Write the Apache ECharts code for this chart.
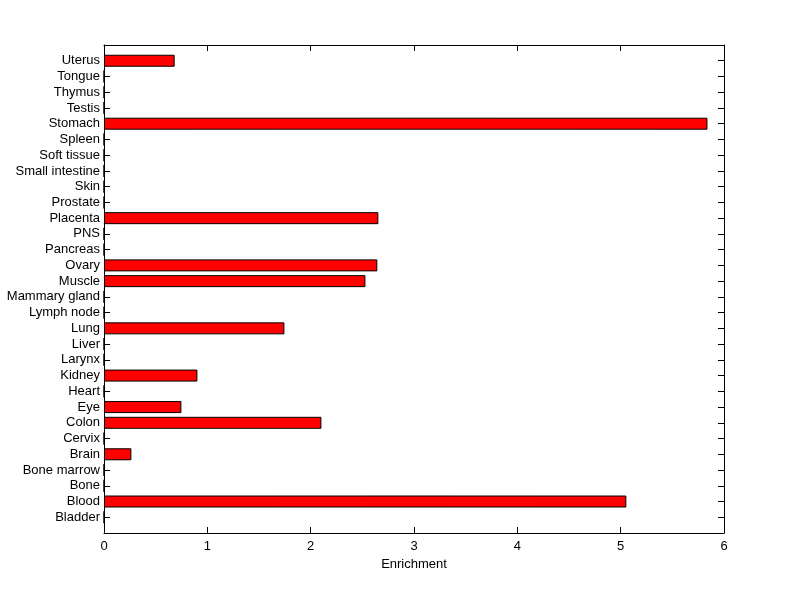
<!DOCTYPE html>
<html>
<head>
<meta charset="utf-8">
<script src="https://cdn.jsdelivr.net/npm/echarts@6/dist/echarts.min.js"></script>
<style>html,body{margin:0;padding:0;background:#fff;}#c{width:800px;height:599px;}</style>
</head>
<body>
<div id="c"></div>
<script>
var categories = ['Bladder','Blood','Bone','Bone marrow','Brain','Cervix','Colon','Eye','Heart','Kidney','Larynx','Liver','Lung','Lymph node','Mammary gland','Muscle','Ovary','Pancreas','PNS','Placenta','Prostate','Skin','Small intestine','Soft tissue','Spleen','Stomach','Testis','Thymus','Tongue','Uterus'];
var enrichment = [0,5.055,0,0,0.265,0,2.104,0.749,0,0.904,0,0,1.746,0,0,2.530,2.645,0,0,2.655,0,0,0,0,0,5.84,0,0,0,0.684];
var xTicks = [0,1,2,3,4,5,6];
var xLabel = 'Enrichment';

var yData = [''].concat(categories, ['']);
var barData = [null].concat(enrichment, [null]);
var font = 'Liberation Sans, Arial, sans-serif';
var chart = echarts.init(document.getElementById('c'));
function axisLine(){ return {show:true, onZero:false, lineStyle:{color:'#000', width:1}}; }
function tick(){ return {show:true, inside:true, length:6, interval:0, lineStyle:{color:'#000'}}; }
chart.setOption({
  animation:false,
  grid:{left:104, right:76, top:45, bottom:66, containLabel:false},
  xAxis:[{
    type:'value', min:xTicks[0], max:xTicks[xTicks.length-1], interval:1, position:'bottom',
    name:xLabel, nameLocation:'middle', nameGap:24,
    nameTextStyle:{color:'#000', fontSize:13, fontFamily:font},
    axisLine:axisLine(), axisTick:tick(), splitLine:{show:false},
    axisLabel:{color:'#000', fontSize:13, fontFamily:font, margin:7}
  },{
    type:'value', min:xTicks[0], max:xTicks[xTicks.length-1], interval:1, position:'top',
    axisLine:axisLine(), axisTick:tick(), splitLine:{show:false}, axisLabel:{show:false}
  }],
  yAxis:[{
    type:'category', data:yData, boundaryGap:false, position:'left',
    axisLine:axisLine(), axisTick:tick(),
    axisLabel:{color:'#000', fontSize:13, fontFamily:font, margin:4, interval:0},
    splitLine:{show:false}
  },{
    type:'category', data:yData, boundaryGap:false, position:'right',
    axisLine:axisLine(), axisTick:tick(),
    axisLabel:{show:false}, splitLine:{show:false}
  }],
  series:[{
    type:'bar', data:barData, xAxisIndex:0, yAxisIndex:0, barWidth:12,
    itemStyle:{color:'#ff0000', borderColor:'#000', borderWidth:1}
  }]
});
</script>
</body>
</html>
